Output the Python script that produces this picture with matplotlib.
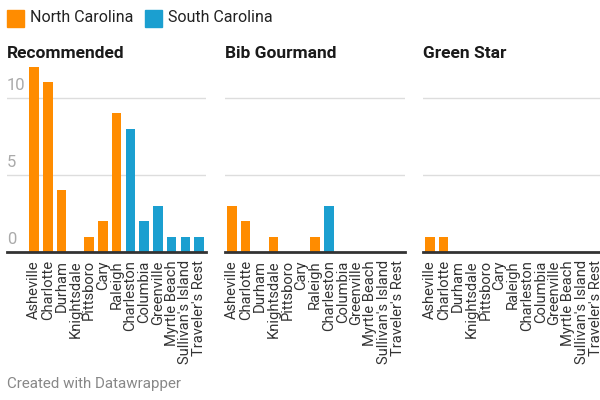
import matplotlib
matplotlib.use("Agg")
import matplotlib.pyplot as plt

plt.rcParams['font.family'] = ['Roboto', 'DejaVu Sans']

# datos
cities = ["Asheville", "Charlotte", "Durham", "Knightsdale", "Pittsboro", "Cary",
          "Raleigh", "Charleston", "Columbia", "Greenville", "Myrtle Beach",
          "Sullivan's Island", "Traveler's Rest"]
state = ["NC"] * 7 + ["SC"] * 6
recommended = [12, 11, 4, 0, 1, 2, 9, 8, 2, 3, 1, 1, 1]
bib_gourmand = [3, 2, 0, 1, 0, 0, 1, 3, 0, 0, 0, 0, 0]
green_star = [1, 1, 0, 0, 0, 0, 0, 0, 0, 0, 0, 0, 0]
titles = ["Recommended", "Bib Gourmand", "Green Star"]
yticks = [0, 5, 10]

orange = '#ff8c00'
blue = '#1b9fd0'
colors = [orange if s == "NC" else blue for s in state]

fig = plt.figure(figsize=(6, 4), dpi=100)

bottom = (400 - 252) / 400
height = 185 / 400
# left (px), width (px), xmin
panels = [(7, 199, -1.97), (225, 180, -0.5), (423, 180, -0.5)]
series = [recommended, bib_gourmand, green_star]

x = list(range(len(cities)))
for k, (left, w, xmin) in enumerate(panels):
    ax = fig.add_axes([left / 600, bottom, w / 600, height])
    ax.set_xlim(xmin, 12.5)
    ax.set_ylim(0, 12)
    for t in [5, 10]:
        ax.axhline(t, color='#dddddd', lw=1, zorder=0)
    ax.bar(x, series[k], width=0.68, color=colors, zorder=2)
    ax.axhline(0, color='#333333', lw=2, zorder=3, clip_on=False)
    for s in ax.spines.values():
        s.set_visible(False)
    ax.set_yticks([])
    ax.set_xticks(x)
    ax.set_xticklabels(cities, rotation=90, fontsize=10.6, color='#333333')
    ax.tick_params(axis='x', length=0, pad=6)
    fig.text(left / 600, 1 - 53 / 400, titles[k], fontsize=12.5, fontweight='bold',
             color='#1a1a1a', va='center', ha='left')
    if k == 0:
        for t in yticks:
            ax.text(xmin, t + 0.3, str(t), fontsize=12, color='#aaaaaa',
                    ha='left', va='bottom', zorder=4)

# leyenda
fig.patches.append(plt.Rectangle((7 / 600, 1 - 27 / 400), 17 / 600, 17 / 400,
                                 color=orange, transform=fig.transFigure))
fig.text(30 / 600, 1 - 18 / 400, "North Carolina", fontsize=11.5, color='#222222',
         va='center', ha='left')
fig.patches.append(plt.Rectangle((145 / 600, 1 - 27 / 400), 17 / 600, 17 / 400,
                                 color=blue, transform=fig.transFigure))
fig.text(168 / 600, 1 - 18 / 400, "South Carolina", fontsize=11.5, color='#222222',
         va='center', ha='left')

fig.text(7 / 600, 1 - 384 / 400, "Created with Datawrapper", fontsize=10.9,
         color='#888888', va='center', ha='left')

plt.savefig("out.png", dpi=100)
plt.close(fig)
